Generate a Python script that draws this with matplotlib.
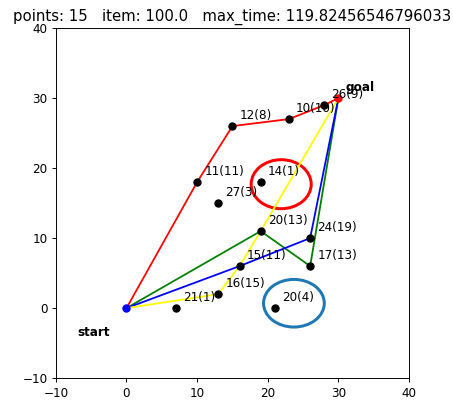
import matplotlib
matplotlib.use("Agg")
import matplotlib.pyplot as plt
from matplotlib.patches import Ellipse

# waypoint data: name(time) labels with coordinates
names = ["21(1)", "16(15)", "15(11)", "20(13)", "24(19)", "17(13)", "20(4)",
         "12(8)", "10(10)", "26(9)", "11(11)", "14(1)", "27(3)"]
xs = [7, 13, 16, 19, 26, 26, 21, 15, 23, 28, 10, 19, 13]
ys = [0, 2, 6, 11, 10, 6, 0, 26, 27, 29, 18, 18, 15]

start = (0, 0)
goal = (30, 30)

# routes through the waypoints (indices into the lists above)
route_red = [10, 7, 8, 9]
route_green = [3, 5]
route_blue = [2, 4]
route_yellow = [1, 2, 3]

title_text = "points: 15   item: 100.0   max_time: 119.82456546796033"

DPI = 86
fig = plt.figure(figsize=(454 / DPI, 401 / DPI), dpi=DPI)
ax = fig.add_axes([0.123, 0.057, 0.778, 0.873])


def path(idx):
    px = [start[0]] + [xs[i] for i in idx] + [goal[0]]
    py = [start[1]] + [ys[i] for i in idx] + [goal[1]]
    return px, py


for route, col in [(route_red, "red"), (route_green, "green"),
                   (route_blue, "blue"), (route_yellow, "yellow")]:
    px, py = path(route)
    ax.plot(px, py, color=col, lw=1.5)

ax.plot(xs, ys, "ko", ms=6)
ax.plot(*start, "bo", ms=6)
ax.plot(*goal, "ro", ms=6)

for n, x, y in zip(names, xs, ys):
    ax.text(x + 1, y + 1, n, fontsize=10)
ax.text(goal[0] + 1, goal[1] + 1, "goal", fontsize=10, fontweight="bold")
ax.text(start[0] - 7, start[1] - 4, "start", fontsize=10, fontweight="bold")

ax.add_patch(Ellipse((21.9, 17.7), 8.5, 7.0, fill=False, ec="red", lw=2.5))
ax.add_patch(Ellipse((23.7, 0.7), 8.6, 6.8, fill=False, ec="#1f77b4", lw=2.5))

ax.set_xlim(-10, 40)
ax.set_ylim(-10, 40)
ax.set_title(title_text, fontsize=12.5)

fig.savefig("out.png", dpi=DPI)
